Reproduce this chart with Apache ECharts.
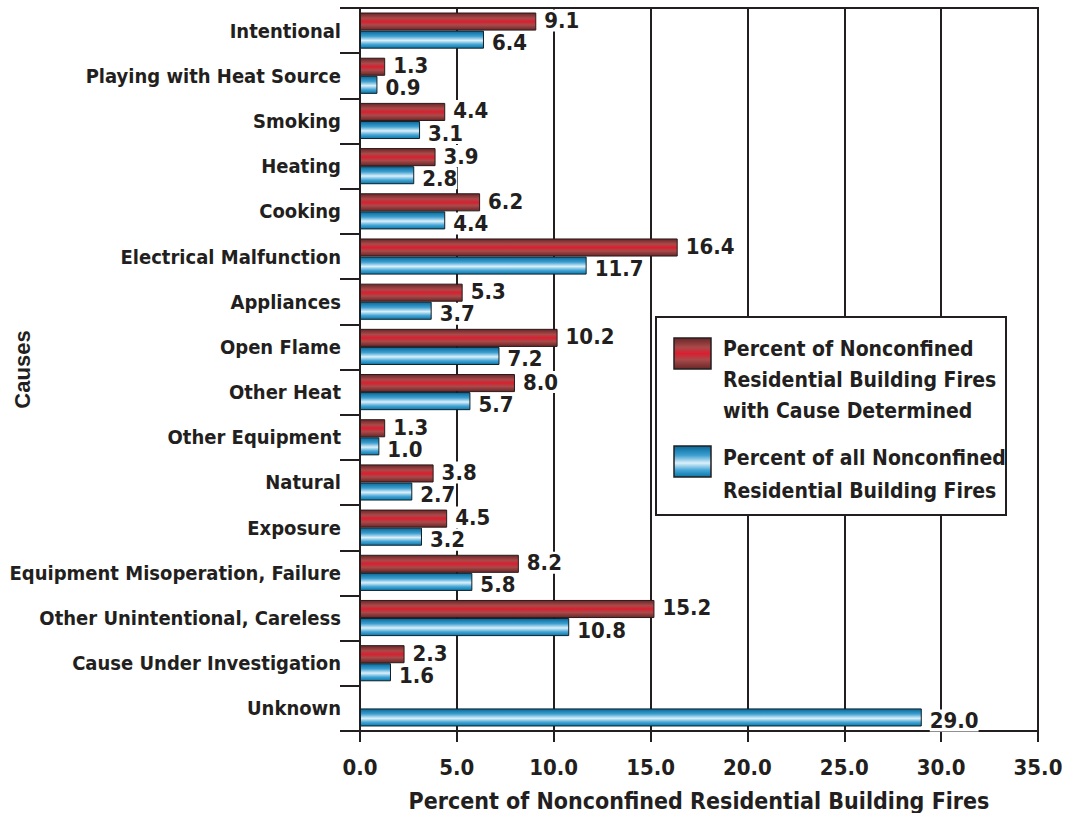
<!DOCTYPE html>
<html>
<head>
<meta charset="utf-8">
<script src="https://cdn.jsdelivr.net/npm/echarts@6/dist/echarts.min.js"></script>
<style>
html,body{margin:0;padding:0;background:#fff;}
#chart{width:1066px;height:813px;}
</style>
</head>
<body>
<div id="chart"></div>
<script>
const categories = ["Intentional","Playing with Heat Source","Smoking","Heating","Cooking","Electrical Malfunction","Appliances","Open Flame","Other Heat","Other Equipment","Natural","Exposure","Equipment Misoperation, Failure","Other Unintentional, Careless","Cause Under Investigation","Unknown"];
const causeDetermined = [9.1,1.3,4.4,3.9,6.2,16.4,5.3,10.2,8.0,1.3,3.8,4.5,8.2,15.2,2.3,null];
const allFires = [6.4,0.9,3.1,2.8,4.4,11.7,3.7,7.2,5.7,1.0,2.7,3.2,5.8,10.8,1.6,29.0];
const seriesNames = ["Percent of Nonconfined\nResidential Building Fires\nwith Cause Determined","Percent of all Nonconfined\nResidential Building Fires"];
const xTicks = [0,5,10,15,20,25,30,35];
const xTitle = "Percent of Nonconfined Residential Building Fires";
const yTitle = "Causes";

const INK = '#231f20';
const COND = '"DejaVu Sans Condensed", "Liberation Sans Narrow", sans-serif';
const redGrad = new echarts.graphic.LinearGradient(0,0,0,1,[
  {offset:0,color:'#6a2628'},{offset:0.3,color:'#a94a4a'},{offset:0.5,color:'#d91f30'},
  {offset:0.7,color:'#a94a4a'},{offset:1,color:'#6a2628'}]);
const blueGrad = new echarts.graphic.LinearGradient(0,0,0,1,[
  {offset:0,color:'#07699a'},{offset:0.3,color:'#3d9fd0'},{offset:0.55,color:'#dcf0fa'},
  {offset:0.78,color:'#45a6d6'},{offset:1,color:'#0877a8'}]);

const chart = echarts.init(document.getElementById('chart'), null, {renderer:'svg'});
const labelStyle = (dy) => ({
  show:true, position:'right', distance:8, offset:[0,dy],
  formatter: p => p.value == null ? '' : Number(p.value).toFixed(1),
  fontFamily: COND, fontWeight:'bold', fontSize:22, color:INK,
  backgroundColor:'#fff', padding:0
});
chart.setOption({
  animation:false,
  textStyle:{fontFamily:COND},
  grid:{left:360,right:28,top:8,bottom:82,containLabel:false,outerBoundsMode:'none',
        show:true,borderColor:INK,borderWidth:2,backgroundColor:'transparent'},
  xAxis:{
    type:'value', min:xTicks[0], max:xTicks[xTicks.length-1], interval:5,
    axisLine:{show:true,lineStyle:{color:INK,width:2}},
    axisTick:{show:true,length:11,lineStyle:{color:INK,width:2}},
    splitLine:{show:true,lineStyle:{color:INK,width:2}},
    axisLabel:{margin:25,formatter:v=>v.toFixed(1),fontFamily:COND,fontWeight:'bold',fontSize:22,color:INK},
    name:xTitle, nameLocation:'middle', nameGap:58, nameMoveOverlap:false,
    nameTextStyle:{fontFamily:COND,fontWeight:'bold',fontSize:23,color:INK}
  },
  yAxis:{
    type:'category', data:categories, inverse:true,
    axisLine:{show:true,lineStyle:{color:INK,width:2}},
    axisTick:{show:true,length:20,interval:0,lineStyle:{color:INK,width:2}},
    axisLabel:{margin:19,interval:0,fontFamily:COND,fontWeight:'bold',fontSize:20,color:INK,padding:[0,0,5,0]},
    name:yTitle, nameLocation:'middle', nameGap:327, nameRotate:90, nameMoveOverlap:false,
    nameTextStyle:{fontFamily:'"Liberation Sans", Arial, sans-serif',fontWeight:'bold',fontSize:22,color:INK}
  },
  series:[
    {name:seriesNames[0],type:'bar',data:causeDetermined,barGap:'0%',barCategoryGap:'20%',
     itemStyle:{color:redGrad,borderColor:'#2a1a1a',borderWidth:1},label:labelStyle(-1)},
    {name:seriesNames[1],type:'bar',data:allFires,barGap:'0%',barCategoryGap:'20%',
     itemStyle:{color:blueGrad,borderColor:'#10202a',borderWidth:1},label:labelStyle(3)}
  ],
  graphic:[
    {type:'rect',shape:{x:656,y:317,width:350,height:198},style:{fill:'#fff',stroke:INK,lineWidth:2},z:100},
    {type:'rect',shape:{x:674,y:338,width:37,height:31},style:{fill:redGrad,stroke:INK,lineWidth:1.5},z:101},
    {type:'rect',shape:{x:674,y:446,width:37,height:31},style:{fill:blueGrad,stroke:INK,lineWidth:1.5},z:101},
    {type:'text',x:723,y:333,z:101,style:{text:seriesNames[0],fill:INK,font:'bold 21px '+COND,lineHeight:31}},
    {type:'text',x:723,y:441,z:101,style:{text:seriesNames[1],fill:INK,font:'bold 21px '+COND,lineHeight:33}}
  ]
});
</script>
</body>
</html>
